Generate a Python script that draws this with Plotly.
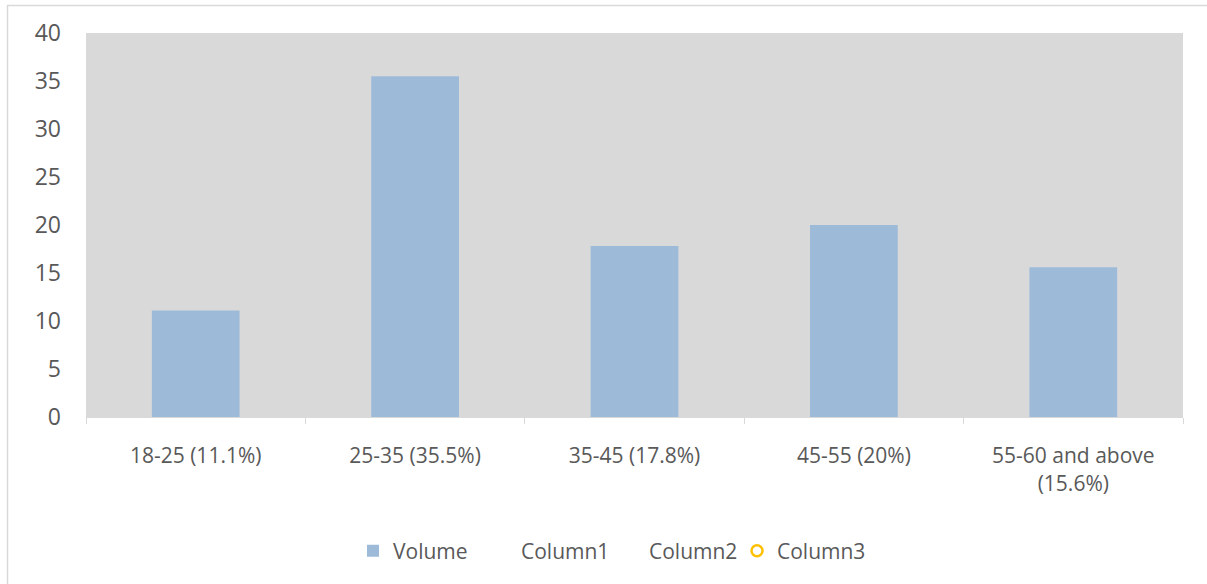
import plotly.graph_objects as go

categories = ["18-25 (11.1%)", "25-35 (35.5%)", "35-45 (17.8%)", "45-55 (20%)", "55-60 and above<br>(15.6%)"]
volume = [11.1, 35.5, 17.8, 20, 15.6]
y_ticks = [0, 5, 10, 15, 20, 25, 30, 35, 40]

W, H = 1207, 584
L, T = 86, 33
R = W - 1183
B = H - 417
pw, ph = W - L - R, H - T - B


def px_x(x):
    return (x - L) / pw


def px_y(y):
    return ((T + ph) - y) / ph


fig = go.Figure()
fig.add_trace(go.Bar(x=categories, y=volume, name="Volume",
                     marker=dict(color="#9DBBD9", line=dict(width=0)), width=0.4))
fig.add_trace(go.Scatter(x=[None], y=[None], name="Column1", mode="markers",
                         marker=dict(color="rgba(0,0,0,0)", size=1)))
fig.add_trace(go.Scatter(x=[None], y=[None], name="Column2", mode="markers",
                         marker=dict(color="rgba(0,0,0,0)", size=1)))
fig.add_trace(go.Scatter(x=[None], y=[None], name="Column3", mode="markers",
                         marker=dict(symbol="circle-open", color="#FFC000", size=11,
                                     line=dict(width=2.5, color="#FFC000"))))

fig.update_layout(
    width=W, height=H,
    margin=dict(l=L, r=R, t=T, b=B),
    paper_bgcolor="white", plot_bgcolor="#D9D9D9",
    font=dict(family="Open Sans", color="#595959"),
    showlegend=True,
    legend=dict(orientation="h", x=px_x(353), xanchor="left",
                y=px_y(551), yanchor="middle",
                font=dict(size=21, color="#595959"), entrywidth=83,
                itemwidth=30, bgcolor="rgba(0,0,0,0)"),
    shapes=[dict(type="rect", xref="paper", yref="paper",
                 x0=px_x(7.5), x1=px_x(1240),
                 y0=px_y(640), y1=px_y(5.5),
                 line=dict(color="#D9D9D9", width=1.5), layer="below")],
)
fig.update_xaxes(showline=True, linecolor="#D9D9D9", linewidth=1,
                 ticks="outside", tickson="boundaries", ticklen=6, tickcolor="#D9D9D9",
                 tickfont=dict(size=21, color="#595959"), showgrid=False,
                 ticklabelstandoff=20)
fig.update_yaxes(range=[0, 40], tickvals=y_ticks, showgrid=False, zeroline=False,
                 showline=False, tickfont=dict(size=23, color="#595959"),
                 ticklabelstandoff=24)

fig.write_html("out.html", config={"displayModeBar": False},
               post_script="document.body.style.margin='0';")
